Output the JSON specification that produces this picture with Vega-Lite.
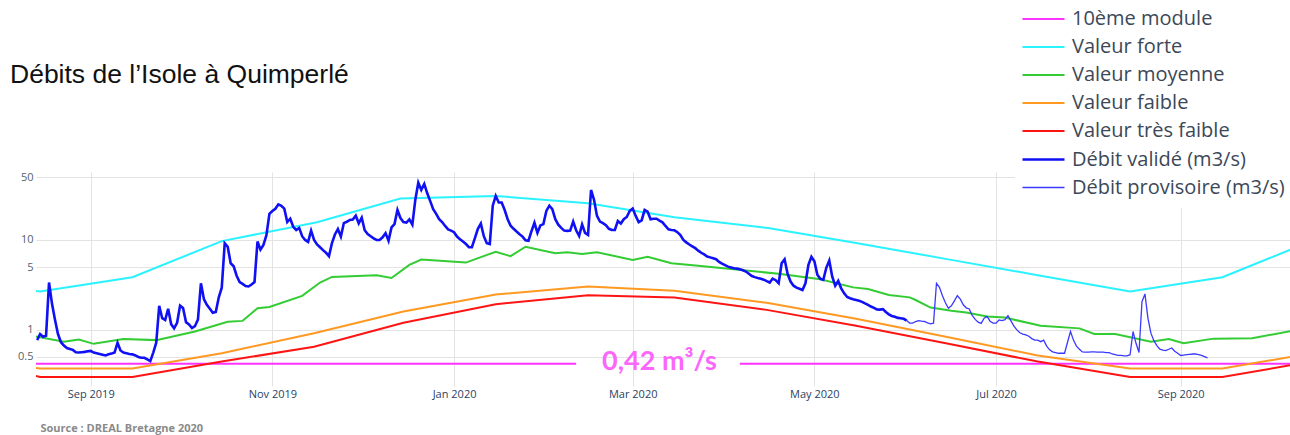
{
"$schema": "https://vega.github.io/schema/vega-lite/v6.json",
"width": 1254, "height": 214,
"autosize": {"type": "none"},
"padding": {"left": 36, "top": 172, "right": 0, "bottom": 49},
"background": "white",
"config": {"view": {"stroke": null}},
"title": {"text": "Débits de l’Isole à Quimperlé", "anchor": "start", "frame": "group", "dx": -26, "offset": -118, "baseline": "alphabetic", "font": "Liberation Sans", "fontSize": 26.5, "fontWeight": "normal", "color": "#111111"},
"data": {"values": [
{"date":"2019-08-12","value":0.42,"serie":"10ème module","seg":1},
{"date":"2020-02-11","value":0.42,"serie":"10ème module","seg":1},
{"date":"2020-04-06","value":0.42,"serie":"10ème module","seg":2},
{"date":"2020-10-09","value":0.42,"serie":"10ème module","seg":2},
{"date":"2019-08-13","value":2.72,"serie":"Valeur forte"},
{"date":"2019-08-15","value":2.67,"serie":"Valeur forte"},
{"date":"2019-09-15","value":3.85,"serie":"Valeur forte"},
{"date":"2019-10-15","value":9.7,"serie":"Valeur forte"},
{"date":"2019-11-16","value":15.7,"serie":"Valeur forte"},
{"date":"2019-12-14","value":28.8,"serie":"Valeur forte"},
{"date":"2020-01-15","value":30.8,"serie":"Valeur forte"},
{"date":"2020-02-15","value":25.6,"serie":"Valeur forte"},
{"date":"2020-03-15","value":17.9,"serie":"Valeur forte"},
{"date":"2020-04-16","value":13.5,"serie":"Valeur forte"},
{"date":"2020-05-15","value":9.26,"serie":"Valeur forte"},
{"date":"2020-06-15","value":6.08,"serie":"Valeur forte"},
{"date":"2020-07-15","value":4.06,"serie":"Valeur forte"},
{"date":"2020-08-15","value":2.67,"serie":"Valeur forte"},
{"date":"2020-09-15","value":3.85,"serie":"Valeur forte"},
{"date":"2020-10-15","value":9.7,"serie":"Valeur forte"},
{"date":"2019-08-13","value":0.85,"serie":"Valeur moyenne"},
{"date":"2019-08-23","value":0.74,"serie":"Valeur moyenne"},
{"date":"2019-08-28","value":0.78,"serie":"Valeur moyenne"},
{"date":"2019-09-02","value":0.70,"serie":"Valeur moyenne"},
{"date":"2019-09-12","value":0.79,"serie":"Valeur moyenne"},
{"date":"2019-09-23","value":0.77,"serie":"Valeur moyenne"},
{"date":"2019-10-06","value":0.96,"serie":"Valeur moyenne"},
{"date":"2019-10-17","value":1.23,"serie":"Valeur moyenne"},
{"date":"2019-10-22","value":1.26,"serie":"Valeur moyenne"},
{"date":"2019-10-27","value":1.74,"serie":"Valeur moyenne"},
{"date":"2019-10-31","value":1.80,"serie":"Valeur moyenne"},
{"date":"2019-11-11","value":2.39,"serie":"Valeur moyenne"},
{"date":"2019-11-17","value":3.36,"serie":"Valeur moyenne"},
{"date":"2019-11-21","value":3.88,"serie":"Valeur moyenne"},
{"date":"2019-12-06","value":4.05,"serie":"Valeur moyenne"},
{"date":"2019-12-11","value":3.78,"serie":"Valeur moyenne"},
{"date":"2019-12-17","value":5.28,"serie":"Valeur moyenne"},
{"date":"2019-12-21","value":6.05,"serie":"Valeur moyenne"},
{"date":"2020-01-05","value":5.6,"serie":"Valeur moyenne"},
{"date":"2020-01-15","value":7.4,"serie":"Valeur moyenne"},
{"date":"2020-01-20","value":6.6,"serie":"Valeur moyenne"},
{"date":"2020-01-25","value":8.4,"serie":"Valeur moyenne"},
{"date":"2020-02-04","value":7.1,"serie":"Valeur moyenne"},
{"date":"2020-02-08","value":7.3,"serie":"Valeur moyenne"},
{"date":"2020-02-13","value":7.0,"serie":"Valeur moyenne"},
{"date":"2020-02-18","value":7.3,"serie":"Valeur moyenne"},
{"date":"2020-03-01","value":6.0,"serie":"Valeur moyenne"},
{"date":"2020-03-06","value":6.5,"serie":"Valeur moyenne"},
{"date":"2020-03-14","value":5.5,"serie":"Valeur moyenne"},
{"date":"2020-03-23","value":5.15,"serie":"Valeur moyenne"},
{"date":"2020-04-03","value":4.76,"serie":"Valeur moyenne"},
{"date":"2020-04-19","value":4.2,"serie":"Valeur moyenne"},
{"date":"2020-05-03","value":3.66,"serie":"Valeur moyenne"},
{"date":"2020-05-14","value":2.97,"serie":"Valeur moyenne"},
{"date":"2020-05-19","value":2.85,"serie":"Valeur moyenne"},
{"date":"2020-05-26","value":2.45,"serie":"Valeur moyenne"},
{"date":"2020-06-02","value":2.3,"serie":"Valeur moyenne"},
{"date":"2020-06-04","value":2.15,"serie":"Valeur moyenne"},
{"date":"2020-06-09","value":1.77,"serie":"Valeur moyenne"},
{"date":"2020-06-16","value":1.63,"serie":"Valeur moyenne"},
{"date":"2020-06-21","value":1.56,"serie":"Valeur moyenne"},
{"date":"2020-06-28","value":1.41,"serie":"Valeur moyenne"},
{"date":"2020-07-04","value":1.37,"serie":"Valeur moyenne"},
{"date":"2020-07-16","value":1.11,"serie":"Valeur moyenne"},
{"date":"2020-07-29","value":1.04,"serie":"Valeur moyenne"},
{"date":"2020-08-03","value":0.90,"serie":"Valeur moyenne"},
{"date":"2020-08-10","value":0.90,"serie":"Valeur moyenne"},
{"date":"2020-08-22","value":0.74,"serie":"Valeur moyenne"},
{"date":"2020-08-28","value":0.79,"serie":"Valeur moyenne"},
{"date":"2020-09-02","value":0.71,"serie":"Valeur moyenne"},
{"date":"2020-09-12","value":0.80,"serie":"Valeur moyenne"},
{"date":"2020-09-25","value":0.81,"serie":"Valeur moyenne"},
{"date":"2020-10-08","value":0.97,"serie":"Valeur moyenne"},
{"date":"2019-08-13","value":0.38,"serie":"Valeur faible"},
{"date":"2019-08-15","value":0.372,"serie":"Valeur faible"},
{"date":"2019-09-15","value":0.372,"serie":"Valeur faible"},
{"date":"2019-10-15","value":0.55,"serie":"Valeur faible"},
{"date":"2019-11-15","value":0.92,"serie":"Valeur faible"},
{"date":"2019-12-15","value":1.6,"serie":"Valeur faible"},
{"date":"2020-01-15","value":2.48,"serie":"Valeur faible"},
{"date":"2020-02-15","value":3.03,"serie":"Valeur faible"},
{"date":"2020-03-15","value":2.73,"serie":"Valeur faible"},
{"date":"2020-04-15","value":2.0,"serie":"Valeur faible"},
{"date":"2020-05-15","value":1.33,"serie":"Valeur faible"},
{"date":"2020-06-15","value":0.83,"serie":"Valeur faible"},
{"date":"2020-07-15","value":0.52,"serie":"Valeur faible"},
{"date":"2020-08-15","value":0.372,"serie":"Valeur faible"},
{"date":"2020-09-15","value":0.372,"serie":"Valeur faible"},
{"date":"2020-10-15","value":0.55,"serie":"Valeur faible"},
{"date":"2019-08-13","value":0.31,"serie":"Valeur très faible"},
{"date":"2019-08-15","value":0.30,"serie":"Valeur très faible"},
{"date":"2019-09-15","value":0.30,"serie":"Valeur très faible"},
{"date":"2019-10-15","value":0.445,"serie":"Valeur très faible"},
{"date":"2019-11-15","value":0.65,"serie":"Valeur très faible"},
{"date":"2019-12-15","value":1.2,"serie":"Valeur très faible"},
{"date":"2020-01-15","value":1.93,"serie":"Valeur très faible"},
{"date":"2020-02-15","value":2.43,"serie":"Valeur très faible"},
{"date":"2020-03-15","value":2.29,"serie":"Valeur très faible"},
{"date":"2020-04-15","value":1.67,"serie":"Valeur très faible"},
{"date":"2020-05-15","value":1.11,"serie":"Valeur très faible"},
{"date":"2020-06-15","value":0.70,"serie":"Valeur très faible"},
{"date":"2020-07-15","value":0.445,"serie":"Valeur très faible"},
{"date":"2020-08-15","value":0.30,"serie":"Valeur très faible"},
{"date":"2020-09-15","value":0.30,"serie":"Valeur très faible"},
{"date":"2020-10-15","value":0.445,"serie":"Valeur très faible"},
{"date":"2019-08-14","value":0.77,"serie":"Débit validé (m3/s)"},
{"date":"2019-08-15","value":0.90,"serie":"Débit validé (m3/s)"},
{"date":"2019-08-16","value":0.84,"serie":"Débit validé (m3/s)"},
{"date":"2019-08-17","value":0.86,"serie":"Débit validé (m3/s)"},
{"date":"2019-08-18","value":3.36,"serie":"Débit validé (m3/s)"},
{"date":"2019-08-19","value":1.95,"serie":"Débit validé (m3/s)"},
{"date":"2019-08-20","value":1.3,"serie":"Débit validé (m3/s)"},
{"date":"2019-08-21","value":0.9,"serie":"Débit validé (m3/s)"},
{"date":"2019-08-22","value":0.73,"serie":"Débit validé (m3/s)"},
{"date":"2019-08-23","value":0.67,"serie":"Débit validé (m3/s)"},
{"date":"2019-08-24","value":0.63,"serie":"Débit validé (m3/s)"},
{"date":"2019-08-25","value":0.615,"serie":"Débit validé (m3/s)"},
{"date":"2019-08-26","value":0.60,"serie":"Débit validé (m3/s)"},
{"date":"2019-08-27","value":0.565,"serie":"Débit validé (m3/s)"},
{"date":"2019-08-28","value":0.56,"serie":"Débit validé (m3/s)"},
{"date":"2019-08-29","value":0.565,"serie":"Débit validé (m3/s)"},
{"date":"2019-08-30","value":0.57,"serie":"Débit validé (m3/s)"},
{"date":"2019-08-31","value":0.58,"serie":"Débit validé (m3/s)"},
{"date":"2019-09-01","value":0.585,"serie":"Débit validé (m3/s)"},
{"date":"2019-09-02","value":0.56,"serie":"Débit validé (m3/s)"},
{"date":"2019-09-03","value":0.55,"serie":"Débit validé (m3/s)"},
{"date":"2019-09-04","value":0.54,"serie":"Débit validé (m3/s)"},
{"date":"2019-09-05","value":0.53,"serie":"Débit validé (m3/s)"},
{"date":"2019-09-06","value":0.52,"serie":"Débit validé (m3/s)"},
{"date":"2019-09-07","value":0.535,"serie":"Débit validé (m3/s)"},
{"date":"2019-09-08","value":0.545,"serie":"Débit validé (m3/s)"},
{"date":"2019-09-09","value":0.56,"serie":"Débit validé (m3/s)"},
{"date":"2019-09-10","value":0.72,"serie":"Débit validé (m3/s)"},
{"date":"2019-09-11","value":0.59,"serie":"Débit validé (m3/s)"},
{"date":"2019-09-12","value":0.56,"serie":"Débit validé (m3/s)"},
{"date":"2019-09-13","value":0.55,"serie":"Débit validé (m3/s)"},
{"date":"2019-09-14","value":0.54,"serie":"Débit validé (m3/s)"},
{"date":"2019-09-15","value":0.535,"serie":"Débit validé (m3/s)"},
{"date":"2019-09-16","value":0.52,"serie":"Débit validé (m3/s)"},
{"date":"2019-09-17","value":0.50,"serie":"Débit validé (m3/s)"},
{"date":"2019-09-18","value":0.49,"serie":"Débit validé (m3/s)"},
{"date":"2019-09-19","value":0.49,"serie":"Débit validé (m3/s)"},
{"date":"2019-09-20","value":0.47,"serie":"Débit validé (m3/s)"},
{"date":"2019-09-21","value":0.45,"serie":"Débit validé (m3/s)"},
{"date":"2019-09-22","value":0.56,"serie":"Débit validé (m3/s)"},
{"date":"2019-09-23","value":0.72,"serie":"Débit validé (m3/s)"},
{"date":"2019-09-24","value":1.85,"serie":"Débit validé (m3/s)"},
{"date":"2019-09-25","value":1.35,"serie":"Débit validé (m3/s)"},
{"date":"2019-09-26","value":1.29,"serie":"Débit validé (m3/s)"},
{"date":"2019-09-27","value":1.72,"serie":"Débit validé (m3/s)"},
{"date":"2019-09-28","value":1.16,"serie":"Débit validé (m3/s)"},
{"date":"2019-09-29","value":1.04,"serie":"Débit validé (m3/s)"},
{"date":"2019-09-30","value":1.2,"serie":"Débit validé (m3/s)"},
{"date":"2019-10-01","value":1.86,"serie":"Débit validé (m3/s)"},
{"date":"2019-10-02","value":1.75,"serie":"Débit validé (m3/s)"},
{"date":"2019-10-03","value":1.22,"serie":"Débit validé (m3/s)"},
{"date":"2019-10-04","value":1.15,"serie":"Débit validé (m3/s)"},
{"date":"2019-10-05","value":1.05,"serie":"Débit validé (m3/s)"},
{"date":"2019-10-06","value":1.10,"serie":"Débit validé (m3/s)"},
{"date":"2019-10-07","value":1.3,"serie":"Débit validé (m3/s)"},
{"date":"2019-10-08","value":3.3,"serie":"Débit validé (m3/s)"},
{"date":"2019-10-09","value":2.2,"serie":"Débit validé (m3/s)"},
{"date":"2019-10-10","value":1.9,"serie":"Débit validé (m3/s)"},
{"date":"2019-10-11","value":1.72,"serie":"Débit validé (m3/s)"},
{"date":"2019-10-12","value":1.55,"serie":"Débit validé (m3/s)"},
{"date":"2019-10-13","value":1.58,"serie":"Débit validé (m3/s)"},
{"date":"2019-10-14","value":2.3,"serie":"Débit validé (m3/s)"},
{"date":"2019-10-15","value":2.95,"serie":"Débit validé (m3/s)"},
{"date":"2019-10-16","value":9.2,"serie":"Débit validé (m3/s)"},
{"date":"2019-10-17","value":8.4,"serie":"Débit validé (m3/s)"},
{"date":"2019-10-18","value":5.5,"serie":"Débit validé (m3/s)"},
{"date":"2019-10-19","value":5.1,"serie":"Débit validé (m3/s)"},
{"date":"2019-10-20","value":4.0,"serie":"Débit validé (m3/s)"},
{"date":"2019-10-21","value":3.4,"serie":"Débit validé (m3/s)"},
{"date":"2019-10-22","value":3.25,"serie":"Débit validé (m3/s)"},
{"date":"2019-10-23","value":3.08,"serie":"Débit validé (m3/s)"},
{"date":"2019-10-24","value":3.04,"serie":"Débit validé (m3/s)"},
{"date":"2019-10-25","value":3.2,"serie":"Débit validé (m3/s)"},
{"date":"2019-10-26","value":3.4,"serie":"Débit validé (m3/s)"},
{"date":"2019-10-27","value":9.6,"serie":"Débit validé (m3/s)"},
{"date":"2019-10-28","value":7.8,"serie":"Débit validé (m3/s)"},
{"date":"2019-10-29","value":8.8,"serie":"Débit validé (m3/s)"},
{"date":"2019-10-30","value":11.3,"serie":"Débit validé (m3/s)"},
{"date":"2019-10-31","value":19.5,"serie":"Débit validé (m3/s)"},
{"date":"2019-11-01","value":21,"serie":"Débit validé (m3/s)"},
{"date":"2019-11-02","value":22.2,"serie":"Débit validé (m3/s)"},
{"date":"2019-11-03","value":24.9,"serie":"Débit validé (m3/s)"},
{"date":"2019-11-04","value":24.0,"serie":"Débit validé (m3/s)"},
{"date":"2019-11-05","value":22.3,"serie":"Débit validé (m3/s)"},
{"date":"2019-11-06","value":15.8,"serie":"Débit validé (m3/s)"},
{"date":"2019-11-07","value":17.2,"serie":"Débit validé (m3/s)"},
{"date":"2019-11-08","value":14,"serie":"Débit validé (m3/s)"},
{"date":"2019-11-09","value":12.9,"serie":"Débit validé (m3/s)"},
{"date":"2019-11-10","value":13.6,"serie":"Débit validé (m3/s)"},
{"date":"2019-11-11","value":11.0,"serie":"Débit validé (m3/s)"},
{"date":"2019-11-12","value":10.0,"serie":"Débit validé (m3/s)"},
{"date":"2019-11-13","value":9.5,"serie":"Débit validé (m3/s)"},
{"date":"2019-11-14","value":12.7,"serie":"Débit validé (m3/s)"},
{"date":"2019-11-15","value":10.0,"serie":"Débit validé (m3/s)"},
{"date":"2019-11-16","value":8.9,"serie":"Débit validé (m3/s)"},
{"date":"2019-11-17","value":8.3,"serie":"Débit validé (m3/s)"},
{"date":"2019-11-18","value":7.7,"serie":"Débit validé (m3/s)"},
{"date":"2019-11-19","value":7.2,"serie":"Débit validé (m3/s)"},
{"date":"2019-11-20","value":6.6,"serie":"Débit validé (m3/s)"},
{"date":"2019-11-21","value":9.2,"serie":"Débit validé (m3/s)"},
{"date":"2019-11-22","value":11.5,"serie":"Débit validé (m3/s)"},
{"date":"2019-11-23","value":13.2,"serie":"Débit validé (m3/s)"},
{"date":"2019-11-24","value":10.9,"serie":"Débit validé (m3/s)"},
{"date":"2019-11-25","value":15.4,"serie":"Débit validé (m3/s)"},
{"date":"2019-11-26","value":15.9,"serie":"Débit validé (m3/s)"},
{"date":"2019-11-27","value":16.7,"serie":"Débit validé (m3/s)"},
{"date":"2019-11-28","value":16.9,"serie":"Débit validé (m3/s)"},
{"date":"2019-11-29","value":18.6,"serie":"Débit validé (m3/s)"},
{"date":"2019-11-30","value":15.3,"serie":"Débit validé (m3/s)"},
{"date":"2019-12-01","value":17.7,"serie":"Débit validé (m3/s)"},
{"date":"2019-12-02","value":12.8,"serie":"Débit validé (m3/s)"},
{"date":"2019-12-03","value":11.6,"serie":"Débit validé (m3/s)"},
{"date":"2019-12-04","value":11.0,"serie":"Débit validé (m3/s)"},
{"date":"2019-12-05","value":10.4,"serie":"Débit validé (m3/s)"},
{"date":"2019-12-06","value":10.0,"serie":"Débit validé (m3/s)"},
{"date":"2019-12-07","value":10.0,"serie":"Débit validé (m3/s)"},
{"date":"2019-12-08","value":10.7,"serie":"Débit validé (m3/s)"},
{"date":"2019-12-09","value":11.9,"serie":"Débit validé (m3/s)"},
{"date":"2019-12-10","value":9.8,"serie":"Débit validé (m3/s)"},
{"date":"2019-12-11","value":13.8,"serie":"Débit validé (m3/s)"},
{"date":"2019-12-12","value":15.0,"serie":"Débit validé (m3/s)"},
{"date":"2019-12-13","value":21.5,"serie":"Débit validé (m3/s)"},
{"date":"2019-12-14","value":17.5,"serie":"Débit validé (m3/s)"},
{"date":"2019-12-15","value":15.8,"serie":"Débit validé (m3/s)"},
{"date":"2019-12-16","value":15.6,"serie":"Débit validé (m3/s)"},
{"date":"2019-12-17","value":16.9,"serie":"Débit validé (m3/s)"},
{"date":"2019-12-18","value":14.8,"serie":"Débit validé (m3/s)"},
{"date":"2019-12-19","value":28,"serie":"Débit validé (m3/s)"},
{"date":"2019-12-20","value":43.3,"serie":"Débit validé (m3/s)"},
{"date":"2019-12-21","value":36,"serie":"Débit validé (m3/s)"},
{"date":"2019-12-22","value":42,"serie":"Débit validé (m3/s)"},
{"date":"2019-12-23","value":33,"serie":"Débit validé (m3/s)"},
{"date":"2019-12-24","value":27,"serie":"Débit validé (m3/s)"},
{"date":"2019-12-25","value":22,"serie":"Débit validé (m3/s)"},
{"date":"2019-12-26","value":19.5,"serie":"Débit validé (m3/s)"},
{"date":"2019-12-27","value":17,"serie":"Débit validé (m3/s)"},
{"date":"2019-12-28","value":15.8,"serie":"Débit validé (m3/s)"},
{"date":"2019-12-29","value":14.3,"serie":"Débit validé (m3/s)"},
{"date":"2019-12-30","value":13.1,"serie":"Débit validé (m3/s)"},
{"date":"2019-12-31","value":12.7,"serie":"Débit validé (m3/s)"},
{"date":"2020-01-01","value":12.2,"serie":"Débit validé (m3/s)"},
{"date":"2020-01-02","value":10.9,"serie":"Débit validé (m3/s)"},
{"date":"2020-01-03","value":10.2,"serie":"Débit validé (m3/s)"},
{"date":"2020-01-04","value":9.6,"serie":"Débit validé (m3/s)"},
{"date":"2020-01-05","value":9.0,"serie":"Débit validé (m3/s)"},
{"date":"2020-01-06","value":8.3,"serie":"Débit validé (m3/s)"},
{"date":"2020-01-07","value":8.3,"serie":"Débit validé (m3/s)"},
{"date":"2020-01-08","value":10.5,"serie":"Débit validé (m3/s)"},
{"date":"2020-01-09","value":13.3,"serie":"Débit validé (m3/s)"},
{"date":"2020-01-10","value":15.2,"serie":"Débit validé (m3/s)"},
{"date":"2020-01-11","value":11.0,"serie":"Débit validé (m3/s)"},
{"date":"2020-01-12","value":9.2,"serie":"Débit validé (m3/s)"},
{"date":"2020-01-13","value":9.0,"serie":"Débit validé (m3/s)"},
{"date":"2020-01-14","value":24,"serie":"Débit validé (m3/s)"},
{"date":"2020-01-15","value":30.8,"serie":"Débit validé (m3/s)"},
{"date":"2020-01-16","value":26.1,"serie":"Débit validé (m3/s)"},
{"date":"2020-01-17","value":26.1,"serie":"Débit validé (m3/s)"},
{"date":"2020-01-18","value":21.5,"serie":"Débit validé (m3/s)"},
{"date":"2020-01-19","value":17,"serie":"Débit validé (m3/s)"},
{"date":"2020-01-20","value":14.4,"serie":"Débit validé (m3/s)"},
{"date":"2020-01-21","value":13.3,"serie":"Débit validé (m3/s)"},
{"date":"2020-01-22","value":12.4,"serie":"Débit validé (m3/s)"},
{"date":"2020-01-23","value":11.6,"serie":"Débit validé (m3/s)"},
{"date":"2020-01-24","value":10.9,"serie":"Débit validé (m3/s)"},
{"date":"2020-01-25","value":9.9,"serie":"Débit validé (m3/s)"},
{"date":"2020-01-26","value":9.8,"serie":"Débit validé (m3/s)"},
{"date":"2020-01-27","value":12.5,"serie":"Débit validé (m3/s)"},
{"date":"2020-01-28","value":15.5,"serie":"Débit validé (m3/s)"},
{"date":"2020-01-29","value":12.0,"serie":"Débit validé (m3/s)"},
{"date":"2020-01-30","value":14.5,"serie":"Débit validé (m3/s)"},
{"date":"2020-01-31","value":15.0,"serie":"Débit validé (m3/s)"},
{"date":"2020-02-01","value":21,"serie":"Débit validé (m3/s)"},
{"date":"2020-02-02","value":24.0,"serie":"Débit validé (m3/s)"},
{"date":"2020-02-03","value":22,"serie":"Débit validé (m3/s)"},
{"date":"2020-02-04","value":17,"serie":"Débit validé (m3/s)"},
{"date":"2020-02-05","value":14.8,"serie":"Débit validé (m3/s)"},
{"date":"2020-02-06","value":13.6,"serie":"Débit validé (m3/s)"},
{"date":"2020-02-07","value":12.7,"serie":"Débit validé (m3/s)"},
{"date":"2020-02-08","value":12.6,"serie":"Débit validé (m3/s)"},
{"date":"2020-02-09","value":12.7,"serie":"Débit validé (m3/s)"},
{"date":"2020-02-10","value":16.0,"serie":"Débit validé (m3/s)"},
{"date":"2020-02-11","value":12.8,"serie":"Débit validé (m3/s)"},
{"date":"2020-02-12","value":11.1,"serie":"Débit validé (m3/s)"},
{"date":"2020-02-13","value":14.9,"serie":"Débit validé (m3/s)"},
{"date":"2020-02-14","value":12.0,"serie":"Débit validé (m3/s)"},
{"date":"2020-02-15","value":11.4,"serie":"Débit validé (m3/s)"},
{"date":"2020-02-16","value":35.9,"serie":"Débit validé (m3/s)"},
{"date":"2020-02-17","value":28,"serie":"Débit validé (m3/s)"},
{"date":"2020-02-18","value":18.5,"serie":"Débit validé (m3/s)"},
{"date":"2020-02-19","value":16,"serie":"Débit validé (m3/s)"},
{"date":"2020-02-20","value":15.4,"serie":"Débit validé (m3/s)"},
{"date":"2020-02-21","value":14.6,"serie":"Débit validé (m3/s)"},
{"date":"2020-02-22","value":13.3,"serie":"Débit validé (m3/s)"},
{"date":"2020-02-23","value":12.9,"serie":"Débit validé (m3/s)"},
{"date":"2020-02-24","value":12.9,"serie":"Débit validé (m3/s)"},
{"date":"2020-02-25","value":16.2,"serie":"Débit validé (m3/s)"},
{"date":"2020-02-26","value":15.2,"serie":"Débit validé (m3/s)"},
{"date":"2020-02-27","value":17.0,"serie":"Débit validé (m3/s)"},
{"date":"2020-02-28","value":18,"serie":"Débit validé (m3/s)"},
{"date":"2020-02-29","value":21,"serie":"Débit validé (m3/s)"},
{"date":"2020-03-01","value":22.3,"serie":"Débit validé (m3/s)"},
{"date":"2020-03-02","value":18.5,"serie":"Débit validé (m3/s)"},
{"date":"2020-03-03","value":15.8,"serie":"Débit validé (m3/s)"},
{"date":"2020-03-04","value":16.5,"serie":"Débit validé (m3/s)"},
{"date":"2020-03-05","value":21.5,"serie":"Débit validé (m3/s)"},
{"date":"2020-03-06","value":20.6,"serie":"Débit validé (m3/s)"},
{"date":"2020-03-07","value":17,"serie":"Débit validé (m3/s)"},
{"date":"2020-03-08","value":17.2,"serie":"Débit validé (m3/s)"},
{"date":"2020-03-09","value":17.2,"serie":"Débit validé (m3/s)"},
{"date":"2020-03-10","value":16.4,"serie":"Débit validé (m3/s)"},
{"date":"2020-03-11","value":15.7,"serie":"Débit validé (m3/s)"},
{"date":"2020-03-12","value":14.3,"serie":"Débit validé (m3/s)"},
{"date":"2020-03-13","value":13.1,"serie":"Débit validé (m3/s)"},
{"date":"2020-03-14","value":12.9,"serie":"Débit validé (m3/s)"},
{"date":"2020-03-15","value":12.8,"serie":"Débit validé (m3/s)"},
{"date":"2020-03-16","value":12.2,"serie":"Débit validé (m3/s)"},
{"date":"2020-03-17","value":11.3,"serie":"Débit validé (m3/s)"},
{"date":"2020-03-18","value":10.0,"serie":"Débit validé (m3/s)"},
{"date":"2020-03-19","value":9.4,"serie":"Débit validé (m3/s)"},
{"date":"2020-03-20","value":8.9,"serie":"Débit validé (m3/s)"},
{"date":"2020-03-21","value":8.5,"serie":"Débit validé (m3/s)"},
{"date":"2020-03-22","value":8.1,"serie":"Débit validé (m3/s)"},
{"date":"2020-03-23","value":7.6,"serie":"Débit validé (m3/s)"},
{"date":"2020-03-24","value":7.2,"serie":"Débit validé (m3/s)"},
{"date":"2020-03-25","value":6.9,"serie":"Débit validé (m3/s)"},
{"date":"2020-03-26","value":6.55,"serie":"Débit validé (m3/s)"},
{"date":"2020-03-27","value":6.4,"serie":"Débit validé (m3/s)"},
{"date":"2020-03-28","value":6.25,"serie":"Débit validé (m3/s)"},
{"date":"2020-03-29","value":6.1,"serie":"Débit validé (m3/s)"},
{"date":"2020-03-30","value":5.7,"serie":"Débit validé (m3/s)"},
{"date":"2020-03-31","value":5.45,"serie":"Débit validé (m3/s)"},
{"date":"2020-04-01","value":5.25,"serie":"Débit validé (m3/s)"},
{"date":"2020-04-02","value":5.05,"serie":"Débit validé (m3/s)"},
{"date":"2020-04-03","value":4.95,"serie":"Débit validé (m3/s)"},
{"date":"2020-04-04","value":4.85,"serie":"Débit validé (m3/s)"},
{"date":"2020-04-05","value":4.8,"serie":"Débit validé (m3/s)"},
{"date":"2020-04-06","value":4.73,"serie":"Débit validé (m3/s)"},
{"date":"2020-04-07","value":4.6,"serie":"Débit validé (m3/s)"},
{"date":"2020-04-08","value":4.45,"serie":"Débit validé (m3/s)"},
{"date":"2020-04-09","value":4.2,"serie":"Débit validé (m3/s)"},
{"date":"2020-04-10","value":3.97,"serie":"Débit validé (m3/s)"},
{"date":"2020-04-11","value":3.86,"serie":"Débit validé (m3/s)"},
{"date":"2020-04-12","value":3.78,"serie":"Débit validé (m3/s)"},
{"date":"2020-04-13","value":3.71,"serie":"Débit validé (m3/s)"},
{"date":"2020-04-14","value":3.62,"serie":"Débit validé (m3/s)"},
{"date":"2020-04-15","value":3.48,"serie":"Débit validé (m3/s)"},
{"date":"2020-04-16","value":3.36,"serie":"Débit validé (m3/s)"},
{"date":"2020-04-17","value":3.72,"serie":"Débit validé (m3/s)"},
{"date":"2020-04-18","value":3.57,"serie":"Débit validé (m3/s)"},
{"date":"2020-04-19","value":3.30,"serie":"Débit validé (m3/s)"},
{"date":"2020-04-20","value":5.5,"serie":"Débit validé (m3/s)"},
{"date":"2020-04-21","value":6.1,"serie":"Débit validé (m3/s)"},
{"date":"2020-04-22","value":4.2,"serie":"Débit validé (m3/s)"},
{"date":"2020-04-23","value":3.45,"serie":"Débit validé (m3/s)"},
{"date":"2020-04-24","value":3.1,"serie":"Débit validé (m3/s)"},
{"date":"2020-04-25","value":2.95,"serie":"Débit validé (m3/s)"},
{"date":"2020-04-26","value":2.87,"serie":"Débit validé (m3/s)"},
{"date":"2020-04-27","value":2.78,"serie":"Débit validé (m3/s)"},
{"date":"2020-04-28","value":3.3,"serie":"Débit validé (m3/s)"},
{"date":"2020-04-29","value":5.3,"serie":"Débit validé (m3/s)"},
{"date":"2020-04-30","value":6.5,"serie":"Débit validé (m3/s)"},
{"date":"2020-05-01","value":5.8,"serie":"Débit validé (m3/s)"},
{"date":"2020-05-02","value":4.1,"serie":"Débit validé (m3/s)"},
{"date":"2020-05-03","value":3.7,"serie":"Débit validé (m3/s)"},
{"date":"2020-05-04","value":3.6,"serie":"Débit validé (m3/s)"},
{"date":"2020-05-05","value":4.9,"serie":"Débit validé (m3/s)"},
{"date":"2020-05-06","value":5.9,"serie":"Débit validé (m3/s)"},
{"date":"2020-05-07","value":3.9,"serie":"Débit validé (m3/s)"},
{"date":"2020-05-08","value":3.1,"serie":"Débit validé (m3/s)"},
{"date":"2020-05-09","value":3.5,"serie":"Débit validé (m3/s)"},
{"date":"2020-05-10","value":2.9,"serie":"Débit validé (m3/s)"},
{"date":"2020-05-11","value":2.55,"serie":"Débit validé (m3/s)"},
{"date":"2020-05-12","value":2.32,"serie":"Débit validé (m3/s)"},
{"date":"2020-05-13","value":2.25,"serie":"Débit validé (m3/s)"},
{"date":"2020-05-14","value":2.19,"serie":"Débit validé (m3/s)"},
{"date":"2020-05-15","value":2.15,"serie":"Débit validé (m3/s)"},
{"date":"2020-05-16","value":2.11,"serie":"Débit validé (m3/s)"},
{"date":"2020-05-17","value":2.05,"serie":"Débit validé (m3/s)"},
{"date":"2020-05-18","value":1.97,"serie":"Débit validé (m3/s)"},
{"date":"2020-05-19","value":1.9,"serie":"Débit validé (m3/s)"},
{"date":"2020-05-20","value":1.82,"serie":"Débit validé (m3/s)"},
{"date":"2020-05-21","value":1.76,"serie":"Débit validé (m3/s)"},
{"date":"2020-05-22","value":1.69,"serie":"Débit validé (m3/s)"},
{"date":"2020-05-23","value":1.68,"serie":"Débit validé (m3/s)"},
{"date":"2020-05-24","value":1.70,"serie":"Débit validé (m3/s)"},
{"date":"2020-05-25","value":1.58,"serie":"Débit validé (m3/s)"},
{"date":"2020-05-26","value":1.49,"serie":"Débit validé (m3/s)"},
{"date":"2020-05-27","value":1.43,"serie":"Débit validé (m3/s)"},
{"date":"2020-05-28","value":1.40,"serie":"Débit validé (m3/s)"},
{"date":"2020-05-29","value":1.36,"serie":"Débit validé (m3/s)"},
{"date":"2020-05-30","value":1.35,"serie":"Débit validé (m3/s)"},
{"date":"2020-05-31","value":1.33,"serie":"Débit validé (m3/s)"},
{"date":"2020-06-01","value":1.27,"serie":"Débit validé (m3/s)"},
{"date":"2020-06-01","value":1.27,"serie":"Débit provisoire (m3/s)"},
{"date":"2020-06-02","value":1.19,"serie":"Débit provisoire (m3/s)"},
{"date":"2020-06-03","value":1.19,"serie":"Débit provisoire (m3/s)"},
{"date":"2020-06-04","value":1.24,"serie":"Débit provisoire (m3/s)"},
{"date":"2020-06-05","value":1.27,"serie":"Débit provisoire (m3/s)"},
{"date":"2020-06-06","value":1.25,"serie":"Débit provisoire (m3/s)"},
{"date":"2020-06-07","value":1.24,"serie":"Débit provisoire (m3/s)"},
{"date":"2020-06-08","value":1.2,"serie":"Débit provisoire (m3/s)"},
{"date":"2020-06-09","value":1.17,"serie":"Débit provisoire (m3/s)"},
{"date":"2020-06-10","value":1.19,"serie":"Débit provisoire (m3/s)"},
{"date":"2020-06-11","value":3.30,"serie":"Débit provisoire (m3/s)"},
{"date":"2020-06-12","value":2.98,"serie":"Débit provisoire (m3/s)"},
{"date":"2020-06-13","value":2.4,"serie":"Débit provisoire (m3/s)"},
{"date":"2020-06-14","value":2.0,"serie":"Débit provisoire (m3/s)"},
{"date":"2020-06-15","value":1.74,"serie":"Débit provisoire (m3/s)"},
{"date":"2020-06-16","value":1.85,"serie":"Débit provisoire (m3/s)"},
{"date":"2020-06-17","value":2.1,"serie":"Débit provisoire (m3/s)"},
{"date":"2020-06-18","value":2.4,"serie":"Débit provisoire (m3/s)"},
{"date":"2020-06-19","value":2.2,"serie":"Débit provisoire (m3/s)"},
{"date":"2020-06-20","value":1.9,"serie":"Débit provisoire (m3/s)"},
{"date":"2020-06-21","value":1.76,"serie":"Débit provisoire (m3/s)"},
{"date":"2020-06-22","value":1.71,"serie":"Débit provisoire (m3/s)"},
{"date":"2020-06-23","value":1.45,"serie":"Débit provisoire (m3/s)"},
{"date":"2020-06-24","value":1.31,"serie":"Débit provisoire (m3/s)"},
{"date":"2020-06-25","value":1.22,"serie":"Débit provisoire (m3/s)"},
{"date":"2020-06-26","value":1.18,"serie":"Débit provisoire (m3/s)"},
{"date":"2020-06-27","value":1.35,"serie":"Débit provisoire (m3/s)"},
{"date":"2020-06-28","value":1.41,"serie":"Débit provisoire (m3/s)"},
{"date":"2020-06-29","value":1.25,"serie":"Débit provisoire (m3/s)"},
{"date":"2020-06-30","value":1.19,"serie":"Débit provisoire (m3/s)"},
{"date":"2020-07-01","value":1.19,"serie":"Débit provisoire (m3/s)"},
{"date":"2020-07-02","value":1.29,"serie":"Débit provisoire (m3/s)"},
{"date":"2020-07-03","value":1.27,"serie":"Débit provisoire (m3/s)"},
{"date":"2020-07-04","value":1.3,"serie":"Débit provisoire (m3/s)"},
{"date":"2020-07-05","value":1.44,"serie":"Débit provisoire (m3/s)"},
{"date":"2020-07-06","value":1.26,"serie":"Débit provisoire (m3/s)"},
{"date":"2020-07-07","value":1.1,"serie":"Débit provisoire (m3/s)"},
{"date":"2020-07-08","value":1.0,"serie":"Débit provisoire (m3/s)"},
{"date":"2020-07-09","value":0.93,"serie":"Débit provisoire (m3/s)"},
{"date":"2020-07-10","value":0.9,"serie":"Débit provisoire (m3/s)"},
{"date":"2020-07-11","value":0.88,"serie":"Débit provisoire (m3/s)"},
{"date":"2020-07-12","value":0.85,"serie":"Débit provisoire (m3/s)"},
{"date":"2020-07-13","value":0.8,"serie":"Débit provisoire (m3/s)"},
{"date":"2020-07-14","value":0.77,"serie":"Débit provisoire (m3/s)"},
{"date":"2020-07-15","value":0.77,"serie":"Débit provisoire (m3/s)"},
{"date":"2020-07-16","value":0.74,"serie":"Débit provisoire (m3/s)"},
{"date":"2020-07-17","value":0.77,"serie":"Débit provisoire (m3/s)"},
{"date":"2020-07-18","value":0.66,"serie":"Débit provisoire (m3/s)"},
{"date":"2020-07-19","value":0.6,"serie":"Débit provisoire (m3/s)"},
{"date":"2020-07-20","value":0.57,"serie":"Débit provisoire (m3/s)"},
{"date":"2020-07-21","value":0.56,"serie":"Débit provisoire (m3/s)"},
{"date":"2020-07-22","value":0.55,"serie":"Débit provisoire (m3/s)"},
{"date":"2020-07-23","value":0.55,"serie":"Débit provisoire (m3/s)"},
{"date":"2020-07-24","value":0.55,"serie":"Débit provisoire (m3/s)"},
{"date":"2020-07-25","value":0.73,"serie":"Débit provisoire (m3/s)"},
{"date":"2020-07-26","value":0.96,"serie":"Débit provisoire (m3/s)"},
{"date":"2020-07-27","value":0.77,"serie":"Débit provisoire (m3/s)"},
{"date":"2020-07-28","value":0.66,"serie":"Débit provisoire (m3/s)"},
{"date":"2020-07-29","value":0.61,"serie":"Débit provisoire (m3/s)"},
{"date":"2020-07-30","value":0.57,"serie":"Débit provisoire (m3/s)"},
{"date":"2020-07-31","value":0.565,"serie":"Débit provisoire (m3/s)"},
{"date":"2020-08-01","value":0.565,"serie":"Débit provisoire (m3/s)"},
{"date":"2020-08-02","value":0.57,"serie":"Débit provisoire (m3/s)"},
{"date":"2020-08-03","value":0.57,"serie":"Débit provisoire (m3/s)"},
{"date":"2020-08-04","value":0.565,"serie":"Débit provisoire (m3/s)"},
{"date":"2020-08-05","value":0.565,"serie":"Débit provisoire (m3/s)"},
{"date":"2020-08-06","value":0.565,"serie":"Débit provisoire (m3/s)"},
{"date":"2020-08-07","value":0.56,"serie":"Débit provisoire (m3/s)"},
{"date":"2020-08-08","value":0.56,"serie":"Débit provisoire (m3/s)"},
{"date":"2020-08-09","value":0.54,"serie":"Débit provisoire (m3/s)"},
{"date":"2020-08-10","value":0.53,"serie":"Débit provisoire (m3/s)"},
{"date":"2020-08-11","value":0.52,"serie":"Débit provisoire (m3/s)"},
{"date":"2020-08-12","value":0.52,"serie":"Débit provisoire (m3/s)"},
{"date":"2020-08-13","value":0.515,"serie":"Débit provisoire (m3/s)"},
{"date":"2020-08-14","value":0.515,"serie":"Débit provisoire (m3/s)"},
{"date":"2020-08-15","value":0.53,"serie":"Débit provisoire (m3/s)"},
{"date":"2020-08-16","value":0.96,"serie":"Débit provisoire (m3/s)"},
{"date":"2020-08-17","value":0.71,"serie":"Débit provisoire (m3/s)"},
{"date":"2020-08-18","value":0.56,"serie":"Débit provisoire (m3/s)"},
{"date":"2020-08-19","value":2.06,"serie":"Débit provisoire (m3/s)"},
{"date":"2020-08-20","value":2.51,"serie":"Débit provisoire (m3/s)"},
{"date":"2020-08-21","value":1.35,"serie":"Débit provisoire (m3/s)"},
{"date":"2020-08-22","value":0.92,"serie":"Débit provisoire (m3/s)"},
{"date":"2020-08-23","value":0.76,"serie":"Débit provisoire (m3/s)"},
{"date":"2020-08-24","value":0.67,"serie":"Débit provisoire (m3/s)"},
{"date":"2020-08-25","value":0.61,"serie":"Débit provisoire (m3/s)"},
{"date":"2020-08-26","value":0.595,"serie":"Débit provisoire (m3/s)"},
{"date":"2020-08-27","value":0.59,"serie":"Débit provisoire (m3/s)"},
{"date":"2020-08-28","value":0.61,"serie":"Débit provisoire (m3/s)"},
{"date":"2020-08-29","value":0.63,"serie":"Débit provisoire (m3/s)"},
{"date":"2020-08-30","value":0.58,"serie":"Débit provisoire (m3/s)"},
{"date":"2020-08-31","value":0.55,"serie":"Débit provisoire (m3/s)"},
{"date":"2020-09-01","value":0.52,"serie":"Débit provisoire (m3/s)"},
{"date":"2020-09-02","value":0.525,"serie":"Débit provisoire (m3/s)"},
{"date":"2020-09-03","value":0.53,"serie":"Débit provisoire (m3/s)"},
{"date":"2020-09-04","value":0.535,"serie":"Débit provisoire (m3/s)"},
{"date":"2020-09-05","value":0.54,"serie":"Débit provisoire (m3/s)"},
{"date":"2020-09-06","value":0.54,"serie":"Débit provisoire (m3/s)"},
{"date":"2020-09-07","value":0.53,"serie":"Débit provisoire (m3/s)"},
{"date":"2020-09-08","value":0.52,"serie":"Débit provisoire (m3/s)"},
{"date":"2020-09-09","value":0.505,"serie":"Débit provisoire (m3/s)"},
{"date":"2020-09-10","value":0.49,"serie":"Débit provisoire (m3/s)"}
]},
"encoding": {
  "x": {"field": "date", "type": "temporal",
    "scale": {"type": "utc", "domain": [{"year": 2019, "month": 8, "date": 13, "hours": 15, "utc": true}, {"year": 2020, "month": 10, "date": 7, "hours": 17, "utc": true}]},
    "axis": {"values": [{"year": 2019, "month": 9, "date": 1, "utc": true}, {"year": 2019, "month": 11, "date": 1, "utc": true}, {"year": 2020, "month": 1, "date": 1, "utc": true}, {"year": 2020, "month": 3, "date": 1, "utc": true}, {"year": 2020, "month": 5, "date": 1, "utc": true}, {"year": 2020, "month": 7, "date": 1, "utc": true}, {"year": 2020, "month": 9, "date": 1, "utc": true}],
      "format": "%b %Y", "labelFont": "Open Sans", "labelFontSize": 11, "labelColor": "#2a3f5f", "labelPadding": 2,
      "ticks": false, "domain": false, "grid": true, "gridColor": "#e3e3e3", "gridWidth": 1,
      "title": "Source : DREAL Bretagne 2020", "titleAnchor": "start", "titleAlign": "left", "titleBaseline": "middle", "titleX": 4, "titleY": 42,
      "titleFont": "Open Sans", "titleFontSize": 11, "titleFontWeight": "bold", "titleColor": "#8a8a8a"}},
  "y": {"field": "value", "type": "quantitative",
    "scale": {"type": "log", "domain": [0.238, 56.9], "nice": false},
    "axis": {"values": [0.5, 1, 5, 10, 50], "format": "~g", "title": null, "labelFont": "Open Sans", "labelFontSize": 11, "labelColor": "#555f6e", "labelPadding": 3,
      "ticks": false, "domain": false, "grid": true, "gridColor": "#e3e3e3", "gridWidth": 1}}
},
"layer": [
  {"mark": {"type": "line", "clip": true},
   "encoding": {
     "color": {"field": "serie", "type": "nominal",
       "scale": {"domain": ["10ème module", "Valeur forte", "Valeur moyenne", "Valeur faible", "Valeur très faible", "Débit validé (m3/s)", "Débit provisoire (m3/s)"],
                 "range": ["#ff33ff", "#2af2ff", "#33cc33", "#ff9922", "#ff1414", "#1010f5", "#3a3aff"]},
       "legend": {"orient": "none", "legendX": 979, "legendY": -181, "title": null, "symbolType": "M-1.25,0H1.25", "symbolSize": 1129, "labelFont": "Open Sans", "labelFontSize": 20, "labelColor": "#3c4858", "labelOffset": 10, "rowPadding": 0, "padding": 10, "fillColor": "white", "labelLimit": 400,
         "encode": {"symbols": {"update": {"stroke": {"scale": "color", "field": "value"}, "fill": {"value": "transparent"}, "strokeWidth": {"scale": "strokeWidth", "field": "value"}, "opacity": {"value": 1}}}}}},
     "strokeWidth": {"field": "serie", "type": "nominal",
       "scale": {"type": "ordinal", "domain": ["10ème module", "Valeur forte", "Valeur moyenne", "Valeur faible", "Valeur très faible", "Débit validé (m3/s)", "Débit provisoire (m3/s)"],
                 "range": [2, 2, 2, 2, 2, 2.6, 1.3]},
       "legend": null},
     "detail": {"field": "seg", "type": "nominal"}
   }},
  {"data": {"values": [{"date": "2020-03-10", "value": 0.42, "label": "0,42 m³/s"}]},
   "mark": {"type": "text", "font": "Lato", "fontSize": 27, "fontWeight": "bold", "color": "#fb66fb", "align": "center", "baseline": "middle", "dy": -2},
   "encoding": {"text": {"field": "label", "type": "nominal"}}}
]
}
